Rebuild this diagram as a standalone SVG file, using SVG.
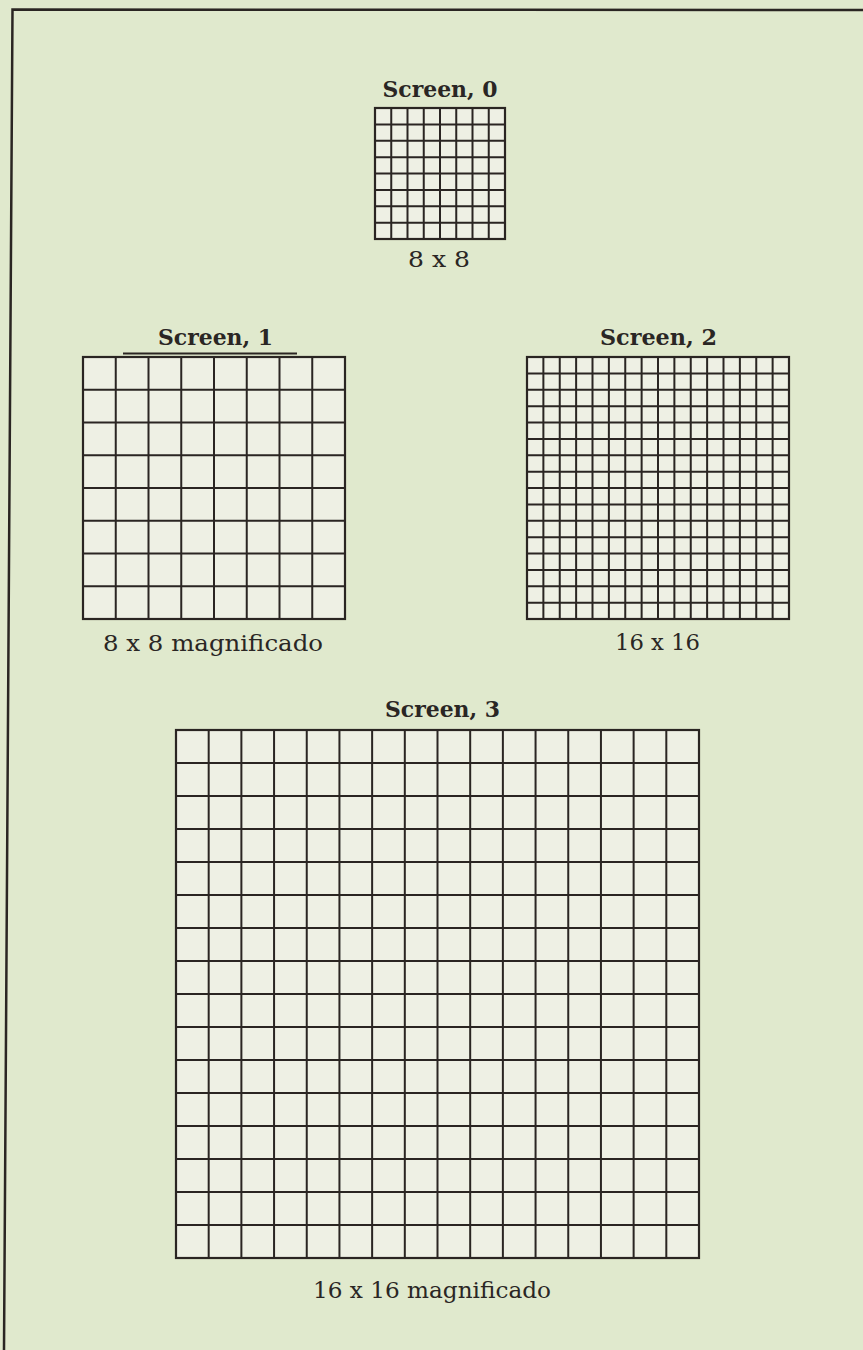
<svg xmlns="http://www.w3.org/2000/svg" width="863" height="1350" viewBox="0 0 863 1350">
<style>
.bg{fill:#e0e9cd}
.cell{fill:#eef0e4;stroke:#2a2522;stroke-width:2.2}
.grid{fill:none;stroke:#2a2522;stroke-width:2}
.title{font-family:"DejaVu Serif","Liberation Serif",serif;font-weight:bold;font-size:22px;fill:#2a2624;text-anchor:middle}
.lab{font-family:"DejaVu Serif","Liberation Serif",serif;font-size:23px;fill:#2a2624;text-anchor:middle}
.frame{fill:none;stroke:#2a2522;stroke-width:2.5}
</style>
<rect class="bg" x="0" y="0" width="863" height="1350"/>
<g id="frame">
<path class="frame" d="M4,1350 L12.5,9.5 L863,10"/>
</g>
<g id="screen0">
<text class="title" x="440" y="97" textLength="115" lengthAdjust="spacingAndGlyphs">Screen, 0</text>
<rect class="cell" x="375" y="108" width="130" height="131"/>
<path class="grid" d="M391.25,108V239M407.5,108V239M423.75,108V239M440,108V239M456.25,108V239M472.5,108V239M488.75,108V239M375,124.375H505M375,140.75H505M375,157.125H505M375,173.5H505M375,189.875H505M375,206.25H505M375,222.625H505"/>
<text class="lab" x="439" y="267" textLength="62" lengthAdjust="spacingAndGlyphs">8 x 8</text>
</g>
<g id="screen1">
<text class="title" x="215.5" y="345" textLength="115" lengthAdjust="spacingAndGlyphs">Screen, 1</text>
<line x1="123" y1="353.5" x2="297" y2="353.5" stroke="#2a2522" stroke-width="2"/>
<rect class="cell" x="83" y="357" width="262" height="262"/>
<path class="grid" d="M115.75,357V619M148.5,357V619M181.25,357V619M214,357V619M246.75,357V619M279.5,357V619M312.25,357V619M83,389.75H345M83,422.5H345M83,455.25H345M83,488H345M83,520.75H345M83,553.5H345M83,586.25H345"/>
<text class="lab" x="213" y="651" textLength="220" lengthAdjust="spacingAndGlyphs">8 x 8 magnificado</text>
</g>
<g id="screen2">
<text class="title" x="658.5" y="345" textLength="117" lengthAdjust="spacingAndGlyphs">Screen, 2</text>
<rect class="cell" x="527" y="357" width="262" height="262"/>
<path class="grid" d="M543.375,357V619M559.75,357V619M576.125,357V619M592.5,357V619M608.875,357V619M625.25,357V619M641.625,357V619M658,357V619M674.375,357V619M690.75,357V619M707.125,357V619M723.5,357V619M739.875,357V619M756.25,357V619M772.625,357V619M527,373.375H789M527,389.75H789M527,406.125H789M527,422.5H789M527,438.875H789M527,455.25H789M527,471.625H789M527,488H789M527,504.375H789M527,520.75H789M527,537.125H789M527,553.5H789M527,569.875H789M527,586.25H789M527,602.625H789"/>
<text class="lab" x="657.5" y="650" textLength="85" lengthAdjust="spacingAndGlyphs">16 x 16</text>
</g>
<g id="screen3">
<text class="title" x="442.5" y="717" textLength="115" lengthAdjust="spacingAndGlyphs">Screen, 3</text>
<rect class="cell" x="176" y="730" width="523" height="528"/>
<path class="grid" d="M208.69,730V1258M241.38,730V1258M274.06,730V1258M306.75,730V1258M339.44,730V1258M372.13,730V1258M404.81,730V1258M437.5,730V1258M470.19,730V1258M502.88,730V1258M535.56,730V1258M568.25,730V1258M600.94,730V1258M633.63,730V1258M666.31,730V1258M176,763H699M176,796H699M176,829H699M176,862H699M176,895H699M176,928H699M176,961H699M176,994H699M176,1027H699M176,1060H699M176,1093H699M176,1126H699M176,1159H699M176,1192H699M176,1225H699"/>
<text class="lab" x="432" y="1298" textLength="238" lengthAdjust="spacingAndGlyphs">16 x 16 magnificado</text>
</g>
</svg>
